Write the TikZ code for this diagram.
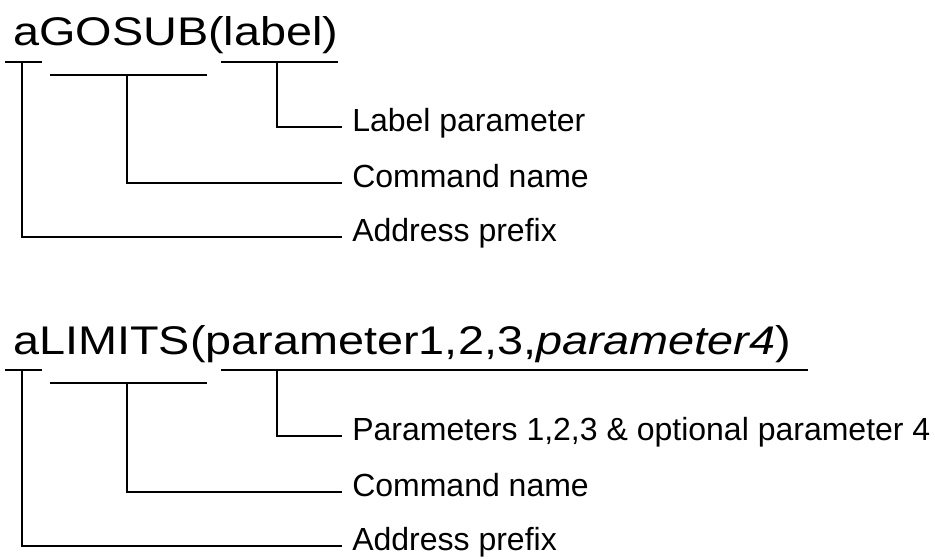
\documentclass[tikz,border=0pt]{standalone}
\usepackage{fontspec}
\setmainfont{Liberation Sans}
\newfontfamily\syntaxfont[FakeStretch=1.17]{Liberation Sans}
\usepackage{tikz}
\usetikzlibrary{positioning}

\begin{document}
\begin{tikzpicture}[x=0.75pt, y=-0.75pt]
  % Styles
  \tikzset{
    syntax/.style={inner sep=0pt, anchor=base west,
      font=\syntaxfont\fontsize{30pt}{36pt}\selectfont},
    callout/.style={inner xsep=7.5pt, inner ysep=0pt, anchor=west,
      text height=0.716em, text depth=0pt,
      font=\fontsize{24pt}{28pt}\selectfont},
    bar/.style={line width=1.5pt, black},
    leader/.style={line width=1.5pt, black}
  }
  \useasboundingbox (0,0) rectangle (935,558);

  % GOSUB example
  \node[syntax] (gosub) at (13,45.5) {aGOSUB(label)};
  \coordinate (gA) at (22,62);
  \coordinate (gC) at (127,75);
  \coordinate (gP) at (277,62);
  \draw[bar] (5,62) -- (42,62);
  \draw[bar] (50,75) -- (207,75);
  \draw[bar] (221,62) -- (338,62);
  \node[callout] (glabel) at (342,127) {Label parameter};
  \node[callout] (gcmd) at (342,183) {Command name};
  \node[callout] (gaddr) at (342,237) {Address prefix};
  \draw[leader] (gP) |- (glabel.west);
  \draw[leader] (gC) |- (gcmd.west);
  \draw[leader] (gA) |- (gaddr.west);

  % LIMITS example
  \node[syntax] (limits) at (13,354) {aLIMITS(parameter1,2,3,\textit{parameter4})};
  \coordinate (lA) at (22,370);
  \coordinate (lC) at (127,383);
  \coordinate (lP) at (277,370);
  \draw[bar] (5,370) -- (42,370);
  \draw[bar] (50,383) -- (207,383);
  \draw[bar] (221,370) -- (808,370);
  \node[callout] (lparam) at (342,436) {Parameters 1,2,3 \& optional parameter 4};
  \node[callout] (lcmd) at (342,492) {Command name};
  \node[callout] (laddr) at (342,546) {Address prefix};
  \draw[leader] (lP) |- (lparam.west);
  \draw[leader] (lC) |- (lcmd.west);
  \draw[leader] (lA) |- (laddr.west);

\end{tikzpicture}
\end{document}
